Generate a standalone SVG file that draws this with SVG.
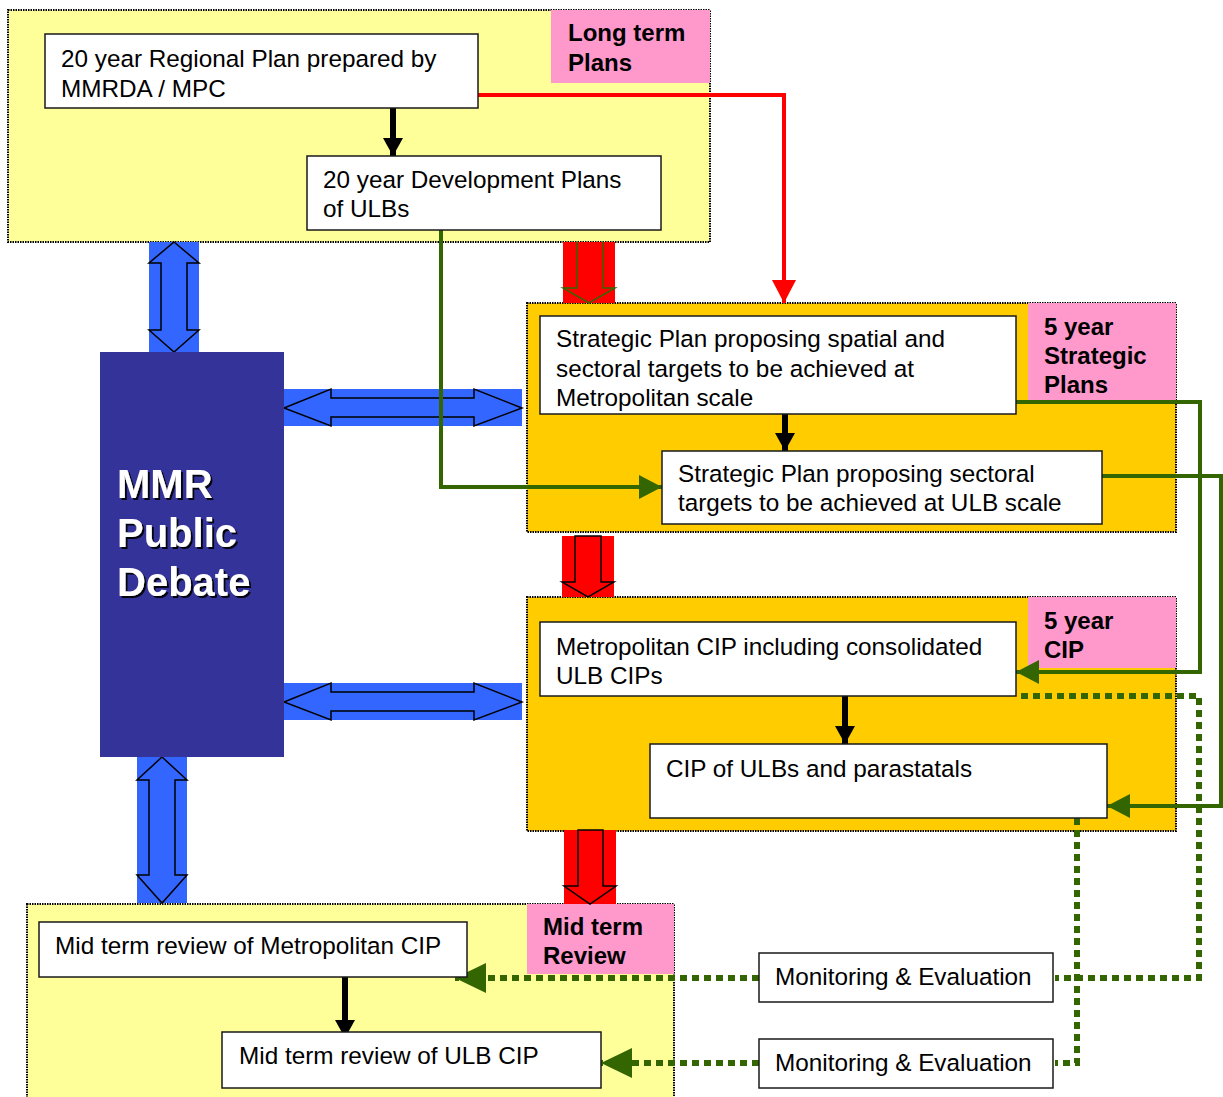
<svg xmlns="http://www.w3.org/2000/svg" width="1223" height="1097" viewBox="0 0 1223 1097">
<style>
.container{stroke:#000;stroke-width:2;stroke-dasharray:1.5 1}
.yellow{fill:#FFFF99}
.orange{fill:#FFCC00}
.pink{fill:#FF99CC}
.box{fill:#fff;stroke:#1a1a1a;stroke-width:1.5}
.t{font-family:"Liberation Sans",Arial,sans-serif;font-size:24.3px;fill:#000}
.lbl{font-family:"Liberation Sans",Arial,sans-serif;font-size:24px;font-weight:bold;fill:#000}
.mmr{font-family:"Liberation Sans",Arial,sans-serif;font-size:40px;font-weight:bold;fill:#fff}
.blk{stroke:#000;stroke-width:6;fill:none}
.grn{stroke:#336600;stroke-width:4;fill:none}
.dot{stroke:#336600;stroke-width:6;fill:none;stroke-dasharray:7 5}
.red{stroke:#FF0000;stroke-width:4;fill:none}
.bluebg{fill:#3366FF}
.redbg{fill:#FF0000}
.outline{fill:none;stroke:#000;stroke-width:1.5}
</style>
<defs>
<filter id="sh" x="-10%" y="-10%" width="130%" height="130%">
<feDropShadow dx="2" dy="2" stdDeviation="0.5" flood-color="#000" flood-opacity="0.9"/>
</filter>
<marker id="ab" markerUnits="userSpaceOnUse" markerWidth="22" markerHeight="20" refX="18" refY="10" orient="auto"><path d="M0,0 L18,10 L0,20 Z" fill="#000"/></marker>
<marker id="ag" markerUnits="userSpaceOnUse" markerWidth="24" markerHeight="24" refX="23" refY="12" orient="auto"><path d="M0,0 L23,12 L0,24 Z" fill="#336600"/></marker>
<marker id="ag2" markerUnits="userSpaceOnUse" markerWidth="32" markerHeight="30" refX="31" refY="15" orient="auto"><path d="M0,0 L31,15 L0,30 Z" fill="#336600"/></marker>
<marker id="ar" markerUnits="userSpaceOnUse" markerWidth="24" markerHeight="24" refX="23" refY="12" orient="auto"><path d="M0,0 L23,12 L0,24 Z" fill="#FF0000"/></marker>
</defs>

<!-- containers -->
<g id="long-term">
<rect class="container yellow" x="8" y="10" width="702" height="232"/>
<rect class="pink" x="551" y="10" width="159" height="73"/>
<text class="lbl" x="568" y="41">Long term</text>
<text class="lbl" x="568" y="71">Plans</text>
</g>
<g id="strategic">
<rect class="container orange" x="527" y="303" width="649" height="229"/>
<rect class="pink" x="1028" y="303" width="148" height="97"/>
<text class="lbl" x="1044" y="335">5 year</text>
<text class="lbl" x="1044" y="364">Strategic</text>
<text class="lbl" x="1044" y="393">Plans</text>
</g>
<g id="cip">
<rect class="container orange" x="527" y="597" width="649" height="234"/>
<rect class="pink" x="1028" y="597" width="148" height="71"/>
<text class="lbl" x="1044" y="629">5 year</text>
<text class="lbl" x="1044" y="658">CIP</text>
</g>
<g id="midterm">
<rect class="container yellow" x="27" y="904" width="647" height="200"/>
<rect class="pink" x="527" y="904" width="147" height="70"/>
<text class="lbl" x="543" y="935">Mid term</text>
<text class="lbl" x="543" y="964">Review</text>
</g>

<!-- block arrows -->
<g id="block-arrows">
<rect class="bluebg" x="149" y="242" width="50" height="110"/>
<path class="outline" d="M174,242 L199,263 L187,263 L187,330 L199,330 L174,352 L149,330 L161,330 L161,263 L149,263 Z"/>
<rect class="bluebg" x="137" y="757" width="50" height="146"/>
<path class="outline" d="M162,757 L187,780 L175,780 L175,875 L187,875 L162,903 L137,875 L149,875 L149,780 L137,780 Z"/>
<rect class="bluebg" x="284" y="389" width="238" height="37"/>
<path class="outline" d="M284,408 L331,389 L331,398 L474,398 L474,389 L522,408 L474,426 L474,417 L331,417 L331,426 Z"/>
<rect class="bluebg" x="284" y="683" width="238" height="37"/>
<path class="outline" d="M284,702 L331,683 L331,692 L474,692 L474,683 L522,702 L474,720 L474,711 L331,711 L331,720 Z"/>
<rect class="redbg" x="563" y="242" width="52" height="61"/>
<path d="M577,242 L577,288 L563,288 L589,303 L615,288 L603,288 L603,242" fill="none" stroke="#336600" stroke-width="1.5"/>
<rect class="redbg" x="562" y="536" width="52" height="61"/>
<path class="outline" d="M575,536 L601,536 L601,582 L614,582 L588,597 L562,582 L575,582 Z"/>
<rect class="redbg" x="564" y="830" width="52" height="74"/>
<path class="outline" d="M578,830 L603,830 L603,886 L616,886 L590,904 L564,886 L578,886 Z"/>
</g>

<!-- connectors -->
<g id="connectors">
<path class="blk" d="M393,108 L393,156" marker-end="url(#ab)"/>
<path class="blk" d="M785,414 L785,451" marker-end="url(#ab)"/>
<path class="blk" d="M845,696 L845,744" marker-end="url(#ab)"/>
<path class="blk" d="M345,977 L345,1038" marker-end="url(#ab)"/>
<path class="red" d="M478,95 L784,95 L784,303" marker-end="url(#ar)"/>
<path class="grn" d="M441,230 L441,487 L662,487" marker-end="url(#ag)"/>
<path class="grn" d="M1016,402 L1200,402 L1200,672 L1016,672" marker-end="url(#ag)"/>
<path class="grn" d="M1102,476 L1221,476 L1221,806 L1107,806" marker-end="url(#ag)"/>
<path class="dot" d="M1021,696 L1199,696 L1199,978 L1055,978"/>
<path class="dot" d="M759,978 L455,978" marker-end="url(#ag2)"/>
<path class="dot" d="M1077,818 L1077,1063 L1055,1063"/>
<path class="dot" d="M759,1063 L601,1063" marker-end="url(#ag2)"/>
</g>

<!-- nodes -->
<g id="mmr">
<rect x="100" y="352" width="184" height="405" fill="#333399"/>
<g filter="url(#sh)">
<text class="mmr" x="117" y="498">MMR</text>
<text class="mmr" x="117" y="547">Public</text>
<text class="mmr" x="117" y="596">Debate</text>
</g>
</g>
<g id="regional-plan">
<rect class="box" x="45" y="34" width="433" height="74"/>
<text class="t" x="61" y="67">20 year Regional Plan prepared by</text>
<text class="t" x="61" y="97">MMRDA / MPC</text>
</g>
<g id="development-plans">
<rect class="box" x="307" y="156" width="354" height="74"/>
<text class="t" x="323" y="188">20 year Development Plans</text>
<text class="t" x="323" y="217">of ULBs</text>
</g>
<g id="strategic-metro">
<rect class="box" x="540" y="316" width="476" height="98"/>
<text class="t" x="556" y="347">Strategic Plan proposing spatial and</text>
<text class="t" x="556" y="377">sectoral targets to be achieved at</text>
<text class="t" x="556" y="406">Metropolitan scale</text>
</g>
<g id="strategic-ulb">
<rect class="box" x="662" y="451" width="440" height="73"/>
<text class="t" x="678" y="482">Strategic Plan proposing sectoral</text>
<text class="t" x="678" y="511">targets to be achieved at ULB scale</text>
</g>
<g id="metro-cip">
<rect class="box" x="540" y="622" width="476" height="74"/>
<text class="t" x="556" y="655">Metropolitan CIP including consolidated</text>
<text class="t" x="556" y="684">ULB CIPs</text>
</g>
<g id="ulb-cip">
<rect class="box" x="650" y="744" width="457" height="74"/>
<text class="t" x="666" y="777">CIP of ULBs and parastatals</text>
</g>
<g id="mt-metro">
<rect class="box" x="39" y="922" width="428" height="55"/>
<text class="t" x="55" y="954">Mid term review of Metropolitan CIP</text>
</g>
<g id="mt-ulb">
<rect class="box" x="222" y="1032" width="379" height="56"/>
<text class="t" x="239" y="1064">Mid term review of ULB CIP</text>
</g>
<g id="me-1">
<rect class="box" x="759" y="953" width="294" height="49"/>
<text class="t" x="775" y="985">Monitoring &amp; Evaluation</text>
</g>
<g id="me-2">
<rect class="box" x="759" y="1039" width="294" height="49"/>
<text class="t" x="775" y="1071">Monitoring &amp; Evaluation</text>
</g>
</svg>
